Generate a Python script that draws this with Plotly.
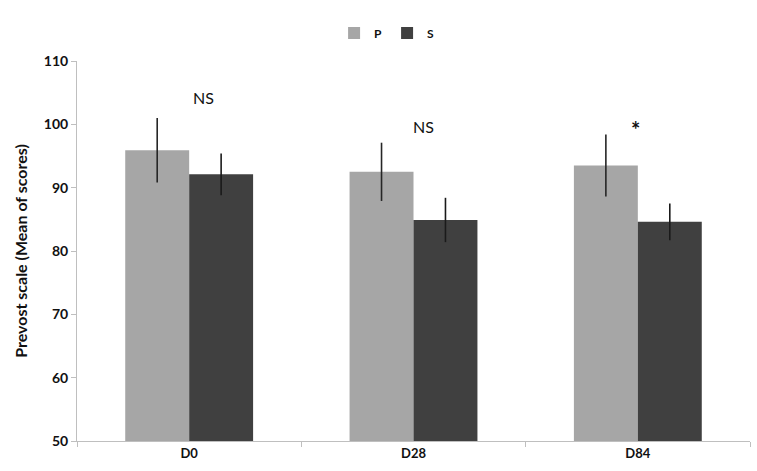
import plotly.graph_objects as go

categories = ["D0", "D28", "D84"]
p_values = [95.9, 92.5, 93.5]
p_errors = [5.1, 4.6, 4.9]
s_values = [92.1, 84.9, 84.6]
s_errors = [3.3, 3.5, 2.9]
annot_text = ["NS", "NS", "*"]
annot_y = [104.3, 99.7, 99.2]
y_ticks = [50, 60, 70, 80, 90, 100, 110]

font_family = "Lato, 'Open Sans', sans-serif"

fig = go.Figure()
fig.add_trace(go.Bar(
    name="P", x=categories, y=p_values,
    marker=dict(color="#a6a6a6", line=dict(width=0)),
    error_y=dict(type="data", array=p_errors, visible=True,
                 color="#262626", thickness=1.6, width=0),
))
fig.add_trace(go.Bar(
    name="S", x=categories, y=s_values,
    marker=dict(color="#404040", line=dict(width=0)),
    error_y=dict(type="data", array=s_errors, visible=True,
                 color="#1a1a1a", thickness=1.6, width=0),
))

shifts = [14, 10, -2]
for c, t, yv, sh in zip(categories, annot_text, annot_y, shifts):
    fig.add_annotation(x=c, y=yv, text=t, showarrow=False, xshift=sh,
                       font=dict(family=font_family, size=16 if t != "*" else 22,
                                 color="#111", weight="normal" if t != "*" else "bold"))

fig.update_layout(
    width=757, height=471,
    margin=dict(l=77, r=7, t=61, b=30, autoexpand=False),
    paper_bgcolor="white", plot_bgcolor="white",
    barmode="group", bargap=0.43, bargroupgap=0,
    font=dict(family=font_family, color="#111"),
    legend=dict(orientation="h", x=0.46, xanchor="center", y=1.074, yanchor="middle",
                font=dict(size=12, family=font_family, weight="bold"),
                itemwidth=30, traceorder="normal", tracegroupgap=0),
    showlegend=True,
)
fig.update_yaxes(
    range=[50, 110], tickvals=y_ticks, showgrid=False, zeroline=False,
    showline=True, linecolor="#bfbfbf", linewidth=1,
    ticks="outside", ticklen=5, tickcolor="#bfbfbf",
    tickfont=dict(size=14, family=font_family, weight="bold", color="#111"),
    title=dict(text="Prevost scale (Mean of scores)",
               font=dict(size=16, family=font_family, weight="bold", color="#111"),
               standoff=12),
)
fig.update_xaxes(
    showgrid=False, zeroline=False, showline=True, linecolor="#bfbfbf", linewidth=1,
    ticks="outside", ticklen=5, tickcolor="#bfbfbf", tickson="boundaries",
    tickfont=dict(size=13, family=font_family, weight="bold", color="#111"),
)

fig.write_html("out.html", config={"displayModeBar": False},
               post_script="document.body.style.margin='0';document.body.style.overflow='hidden';")
